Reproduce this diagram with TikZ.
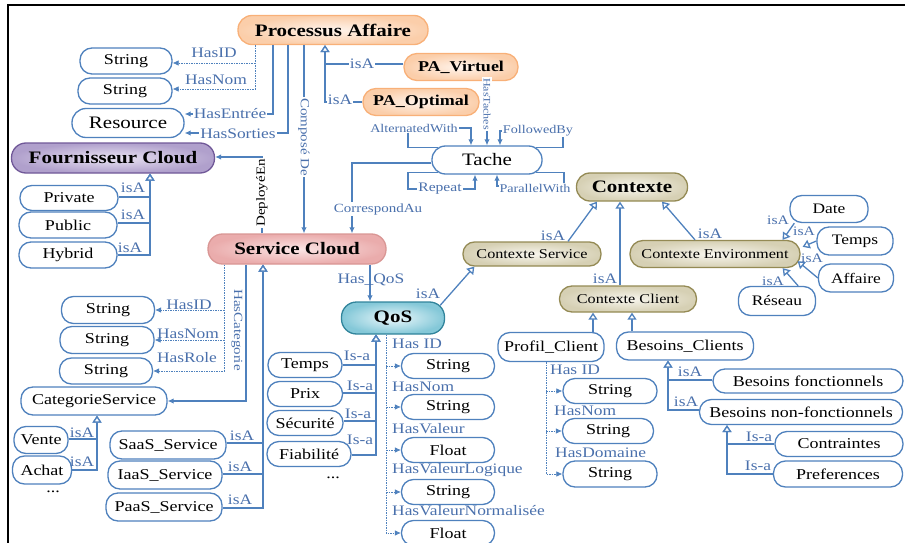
\documentclass[tikz,border=0pt]{standalone}
\usepackage{fontspec}
\setmainfont{Liberation Serif}[FakeStretch=1.2]
\usetikzlibrary{arrows.meta}
\newcommand{\myfs}[1]{\fontsize{#1}{#1}\selectfont}
\definecolor{lb}{RGB}{79,129,189}
\definecolor{lt}{RGB}{74,112,172}
\definecolor{orB}{RGB}{248,176,120}
\definecolor{orI}{RGB}{255,244,236}
\definecolor{orO}{RGB}{251,206,170}
\definecolor{puB}{RGB}{112,88,152}
\definecolor{puI}{RGB}{234,228,243}
\definecolor{puO}{RGB}{176,160,204}
\definecolor{piB}{RGB}{217,150,148}
\definecolor{piI}{RGB}{251,230,230}
\definecolor{piO}{RGB}{234,172,172}
\definecolor{teB}{RGB}{49,132,155}
\definecolor{teI}{RGB}{236,248,251}
\definecolor{teO}{RGB}{132,200,216}
\definecolor{khB}{RGB}{148,138,84}
\definecolor{khI}{RGB}{248,246,238}
\definecolor{khO}{RGB}{214,208,180}
\tikzset{
  pill/.style={rectangle, rounded corners=12pt, draw=lb, line width=1.3pt, fill=white,
    inner sep=1pt, font=\myfs{15}, text=black},
  orangebox/.style={pill, draw=orB, inner color=orI, outer color=orO, font=\myfs{15}\bfseries},
  purplebox/.style={pill, draw=puB, inner color=puI, outer color=puO, font=\myfs{17.5}\bfseries},
  pinkbox/.style={pill, draw=piB, inner color=piI, outer color=piO, font=\myfs{17.5}\bfseries},
  tealbox/.style={pill, draw=teB, inner color=teI, outer color=teO, font=\myfs{17.5}\bfseries},
  khakibox/.style={pill, draw=khB, inner color=khI, outer color=khO, font=\myfs{13.5}},
  rel/.style={draw=lb, line width=1.3pt, -{Latex[length=6pt,width=5.5pt]}},
  dotrel/.style={draw=lb, line width=0.7pt, dash pattern=on 1.5pt off 1pt, -{Latex[length=6pt,width=5.5pt]}},
  isa/.style={draw=lb, line width=1.3pt, -{Triangle[open,length=7pt,width=9pt,fill=white]}},
  lab/.style={text=lt, font=\myfs{14.5}, inner sep=1pt},
  wlab/.style={lab, fill=white},
}
\begin{document}
\begin{tikzpicture}[x=1pt,y=-1pt]
\useasboundingbox (0,0) rectangle (905,543);
\draw[line width=2.5pt] (8,543) -- (8,5) -- (905,5);

% ---------- nodes ----------
\node[orangebox, minimum width=190pt, minimum height=29pt, rounded corners=14pt, font=\myfs{17.5}\bfseries] (pa) at (333,30) {Processus Affaire};
\node[pill, minimum width=92pt, minimum height=26pt] (s1) at (126,61) {String};
\node[pill, minimum width=94pt, minimum height=26pt] (s2) at (125,91) {String};
\node[pill, minimum width=112pt, minimum height=29pt, rounded corners=14pt, font=\myfs{17.5}] (res) at (128,123) {Resource};
\node[purplebox, minimum width=203pt, minimum height=30pt, rounded corners=14.5pt] (fc) at (113,158) {Fournisseur Cloud};
\node[orangebox, minimum width=114pt, minimum height=27pt, rounded corners=13pt] (pv) at (461,67) {PA\_Virtuel};
\node[orangebox, minimum width=116pt, minimum height=27pt, rounded corners=13pt] (po) at (421,102) {PA\_Optimal};
\node[pill, minimum width=110pt, minimum height=28pt, rounded corners=13.5pt, font=\myfs{17.5}] (t) at (487,160) {Tache};

\node[khakibox, minimum width=111pt, minimum height=28pt, rounded corners=13.5pt, font=\myfs{17.5}\bfseries] (ctx) at (632,187) {Contexte};
\node[khakibox, minimum width=138pt, minimum height=24pt, rounded corners=11.5pt] (cs) at (532,254) {Contexte Service};
\node[khakibox, minimum width=170pt, minimum height=27pt, rounded corners=13pt] (ce) at (715,254) {Contexte Environment};
\node[khakibox, minimum width=137pt, minimum height=26pt, rounded corners=12.5pt] (cc) at (628,299) {Contexte Client};

\node[pill, minimum width=78pt, minimum height=27pt, font=\myfs{14.5}] (date) at (829,209) {Date};
\node[pill, minimum width=76pt, minimum height=28pt, font=\myfs{14.5}] (tps) at (855,241) {Temps};
\node[pill, minimum width=75pt, minimum height=28pt, font=\myfs{14.5}] (aff) at (856,278) {Affaire};
\node[pill, minimum width=77pt, minimum height=29pt, font=\myfs{14.5}] (res2) at (777,301) {Réseau};

\node[pill, minimum width=106pt, minimum height=29pt] (pc) at (551,347) {Profil\_Client};
\node[pill, minimum width=137pt, minimum height=28pt] (bc) at (685,346) {Besoins\_Clients};
\node[pill, minimum width=94pt, minimum height=25pt] (ps1) at (610,391) {String};
\node[pill, minimum width=91pt, minimum height=25pt] (ps2) at (608,431) {String};
\node[pill, minimum width=94pt, minimum height=26pt] (ps3) at (610,474) {String};
\node[pill, minimum width=190pt, minimum height=24pt] (bf) at (808,381) {Besoins fonctionnels};
\node[pill, minimum width=203pt, minimum height=25pt] (bnf) at (801,412) {Besoins non-fonctionnels};
\node[pill, minimum width=128pt, minimum height=25pt] (con) at (839,444) {Contraintes};
\node[pill, minimum width=129pt, minimum height=26pt] (pre) at (838,474) {Preferences};

\node[pill, minimum width=98pt, minimum height=25pt] (pri) at (69,198) {Private};
\node[pill, minimum width=98pt, minimum height=26pt] (pub) at (68,225) {Public};
\node[pill, minimum width=98pt, minimum height=26pt] (hyb) at (68,255) {Hybrid};

\node[pinkbox, minimum width=178pt, minimum height=30pt, rounded corners=14.5pt] (sc) at (297,249) {Service Cloud};
\node[pill, minimum width=93pt, minimum height=27pt] (ls1) at (108,310) {String};
\node[pill, minimum width=94pt, minimum height=27pt] (ls2) at (107,340) {String};
\node[pill, minimum width=93pt, minimum height=26pt] (ls3) at (106,371) {String};
\node[pill, minimum width=146pt, minimum height=28pt] (cat) at (94,401) {CategorieService};
\node[pill, minimum width=54pt, minimum height=27pt] (ven) at (41,440) {Vente};
\node[pill, minimum width=59pt, minimum height=28pt] (ach) at (42,470) {Achat};
\node[font=\myfs{15}, inner sep=0pt] (dots1) at (53,492) {...};
\node[pill, minimum width=116pt, minimum height=28pt] (saas) at (168,445) {SaaS\_Service};
\node[pill, minimum width=114pt, minimum height=28pt] (iaas) at (165,475) {IaaS\_Service};
\node[pill, minimum width=116pt, minimum height=28pt] (paas) at (164,507) {PaaS\_Service};

\node[tealbox, minimum width=103pt, minimum height=32pt, rounded corners=15pt] (q) at (393,318) {QoS};
\node[pill, minimum width=74pt, minimum height=25pt] (tmp) at (305,365) {Temps};
\node[pill, minimum width=75pt, minimum height=25pt] (prx) at (305,394) {Prix};
\node[pill, minimum width=76pt, minimum height=25pt] (sec) at (305,423) {Sécurité};
\node[pill, minimum width=84pt, minimum height=25pt] (fia) at (309,454) {Fiabilité};
\node[font=\myfs{15}, inner sep=0pt] (dots2) at (333,478) {...};
\node[pill, minimum width=93pt, minimum height=25pt] (v1) at (448,366) {String};
\node[pill, minimum width=93pt, minimum height=25pt] (v2) at (448,407) {String};
\node[pill, minimum width=93pt, minimum height=25pt] (v3) at (448,450) {Float};
\node[pill, minimum width=93pt, minimum height=25pt] (v4) at (448,492) {String};
\node[pill, minimum width=93pt, minimum height=25pt] (v5) at (448,533) {Float};

% ---------- Processus Affaire relations ----------
\draw[dotrel] (255,0 |- pa.south) |- ([yshift=-2pt]s1.east);
\draw[dotrel] (255,0 |- pa.south) |- ([yshift=2pt]s2.east);
\node[lab] (lhid) at (214,53) {HasID};
\node[lab] (lhnom) at (216,80) {HasNom};
\draw[rel] (273,0 |- pa.south) |- ([yshift=9pt]res.east);
\node[wlab] (lhe) at (230,114) {HasEntrée};
\draw[rel] (288,0 |- pa.south) |- ([yshift=-10pt]res.east);
\node[wlab] (lhs) at (238,134) {HasSorties};
\draw[rel] (304,0 |- pa.south) -- (304,0 |- sc.north);
\node[wlab, rotate=-90, font=\myfs{12.5}] (lcd) at (304,137) {Composé De};
\draw[rel] (262,0 |- sc.north) |- ([yshift=1pt]fc.east);
\node[wlab, rotate=90, font=\myfs{12.5}, text=black] (lde) at (262,193) {DeployéEn};
\draw[isa] ([yshift=3pt]pv.west) -| (325,0 |- pa.south);
\draw[isa] (po.west) -| (325,0 |- pa.south);
\node[wlab] (lisa1) at (362,64) {isA};
\node[wlab] (lisa2) at (340,100) {isA};
\draw[rel] (487,0 |- pv.south) -- (t.north);
\node[wlab, rotate=-90, font=\myfs{10}] (lht) at (487,104) {HasTaches};

% ---------- Tache loops ----------
\draw[rel] ([xshift=7pt,yshift=-2pt]t.north west) -| (408,128) -| ([xshift=-16pt]t.north);
\node[wlab, font=\myfs{11.8}] (law) at (414,128) {AlternatedWith};
\draw[rel] ([xshift=-7pt,yshift=-2pt]t.north east) -| (563,131) -| ([xshift=13pt]t.north);
\node[wlab, font=\myfs{11.8}] (lfb) at (538,131) {FollowedBy};
\draw[rel] ([xshift=7pt,yshift=2pt]t.south west) -| (408,189) -| ([xshift=-12pt]t.south);
\node[wlab, font=\myfs{13}] (lrp) at (440,189) {Repeat};
\draw[rel] ([xshift=-7pt,yshift=2pt]t.south east) -| (564,186) -| ([xshift=10pt]t.south);
\node[wlab, font=\myfs{11.8}] (lpw) at (535,188) {ParallelWith};
\draw[rel] ([yshift=-3pt]t.west) -| ([xshift=55pt]sc.north);
\node[wlab, font=\myfs{12.5}] (lca) at (378,209) {CorrespondAu};

% ---------- Service Cloud / QoS ----------
\draw[rel] (370,0 |- sc.south) -- (370,0 |- q.north);
\node[lab] (lhq) at (371,280) {Has\_QoS};
\draw[isa] ([xshift=-5pt,yshift=-4pt]q.north east) -- ([xshift=12pt]cs.south west);
\node[lab] (lisaq) at (428,294) {isA};

% ---------- Contexte ----------
\draw[isa] ([xshift=36pt]cs.north) -- ([xshift=-35pt]ctx.south);
\node[lab] (lc1) at (553,236) {isA};
\draw[isa] ([xshift=-8pt]cc.north) -- (620,0 |- ctx.south);
\node[lab] (lc2) at (605,279) {isA};
\draw[isa] ([xshift=-20pt]ce.north) -- ([xshift=30pt]ctx.south);
\node[lab] (lc3) at (710,234) {isA};

\draw[isa] ([xshift=5pt]date.south west) -- ([xshift=-18pt]ce.north east);
\draw[isa] (tps.west) -- ([xshift=2pt,yshift=-7pt]ce.north east);
\draw[isa] (aff.west) -- ([xshift=-3pt,yshift=7pt]ce.south east);
\draw[isa] ([xshift=-18pt]res2.north east) -- ([xshift=-18pt]ce.south east);
\node[lab, font=\myfs{13}] (le1) at (778,220) {isA};
\node[lab, font=\myfs{13}] (le2) at (804,231) {isA};
\node[lab, font=\myfs{13}] (le3) at (812,258) {isA};
\node[lab, font=\myfs{13}] (le4) at (773,281) {isA};

\draw[isa] ([xshift=42pt]pc.north) -- (593,0 |- cc.south);
\draw[isa] ([xshift=-53pt]bc.north) -- (632,0 |- cc.south);

\draw[dotrel] (546,0 |- pc.south) |- (ps3.west);
\draw[dotrel] (546,0 |- ps1.west) -- (ps1.west);
\draw[dotrel] (546,0 |- ps2.west) -- (ps2.west);
\node[lab, anchor=west] (lp1) at (549,370) {Has ID};
\node[lab, anchor=west] (lp2) at (553,411) {HasNom};
\node[lab, anchor=west] (lp3) at (554,453) {HasDomaine};

\draw[isa] ([yshift=1pt]bf.west) -| (668,0 |- bc.south);
\draw[isa] ([yshift=2pt]bnf.west) -| (668,0 |- bc.south);
\node[lab] (lb1) at (690,372) {isA};
\node[lab] (lb2) at (686,402) {isA};
\draw[isa] (con.west) -| (727,0 |- bnf.south);
\draw[isa] (pre.west) -| (727,0 |- bnf.south);
\node[lab] (lb3) at (759,437) {Is-a};
\node[lab] (lb4) at (758,466) {Is-a};

% ---------- Fournisseur Cloud ----------
\draw[isa] ([yshift=1pt]pri.east) -| (150,0 |- fc.south);
\draw[isa] ([yshift=2pt]pub.east) -| (150,0 |- fc.south);
\draw[isa] (hyb.east) -| (150,0 |- fc.south);
\node[lab] (lf1) at (133,188) {isA};
\node[lab] (lf2) at (133,215) {isA};
\node[lab] (lf3) at (130,248) {isA};

% ---------- Service Cloud left ----------
\draw[dotrel] (224,0 |- sc.south) |- (ls3.east);
\draw[dotrel] (224,0 |- ls1.east) -- (ls1.east);
\draw[dotrel] (224,0 |- ls2.east) -- (ls2.east);
\node[lab] (ll1) at (189,305) {HasID};
\node[lab] (ll2) at (188,334) {HasNom};
\node[lab] (ll3) at (187,358) {HasRole};
\draw[rel] (246,0 |- sc.south) |- (cat.east);
\node[lab, rotate=-90, font=\myfs{12.5}] (lhc) at (237,330) {HasCategorie};
\draw[isa] ([yshift=1pt]ven.east) -| (97,0 |- cat.south);
\draw[isa] (ach.east) -| (97,0 |- cat.south);
\node[lab] (lv1) at (82,433) {isA};
\node[lab] (lv2) at (82,462) {isA};
\draw[isa] ([yshift=2pt]saas.east) -| (263,0 |- sc.south);
\draw[isa] ([yshift=1pt]iaas.east) -| (263,0 |- sc.south);
\draw[isa] ([yshift=-1pt]paas.east) -| (263,0 |- sc.south);
\node[lab] (ls1l) at (242,436) {isA};
\node[lab] (ls2l) at (240,467) {isA};
\node[lab] (ls3l) at (240,500) {isA};

% ---------- QoS children ----------
\draw[isa] (tmp.east) -| (376,0 |- q.south);
\draw[isa] ([yshift=1pt]prx.east) -| (376,0 |- q.south);
\draw[isa] ([yshift=2pt]sec.east) -| (376,0 |- q.south);
\draw[isa] ([yshift=-1pt]fia.east) -| (376,0 |- q.south);
\node[lab] (lq1) at (357,356) {Is-a};
\node[lab] (lq2) at (360,386) {Is-a};
\node[lab] (lq3) at (358,414) {Is-a};
\node[lab] (lq4) at (360,440) {Is-a};
\draw[dotrel] (386,0 |- q.south) |- (v5.west);
\draw[dotrel] (386,0 |- v1.west) -- (v1.west);
\draw[dotrel] (386,0 |- v2.west) -- (v2.west);
\draw[dotrel] (386,0 |- v3.west) -- (v3.west);
\draw[dotrel] (386,0 |- v4.west) -- (v4.west);
\node[lab, anchor=west] (lv1a) at (391,344) {Has ID};
\node[lab, anchor=west] (lv2a) at (391,387) {HasNom};
\node[lab, anchor=west] (lv3a) at (391,429) {HasValeur};
\node[lab, anchor=west] (lv4a) at (391,470) {HasValeurLogique};
\node[lab, anchor=west] (lv5a) at (391,511) {HasValeurNormalisée};
\end{tikzpicture}
\end{document}
